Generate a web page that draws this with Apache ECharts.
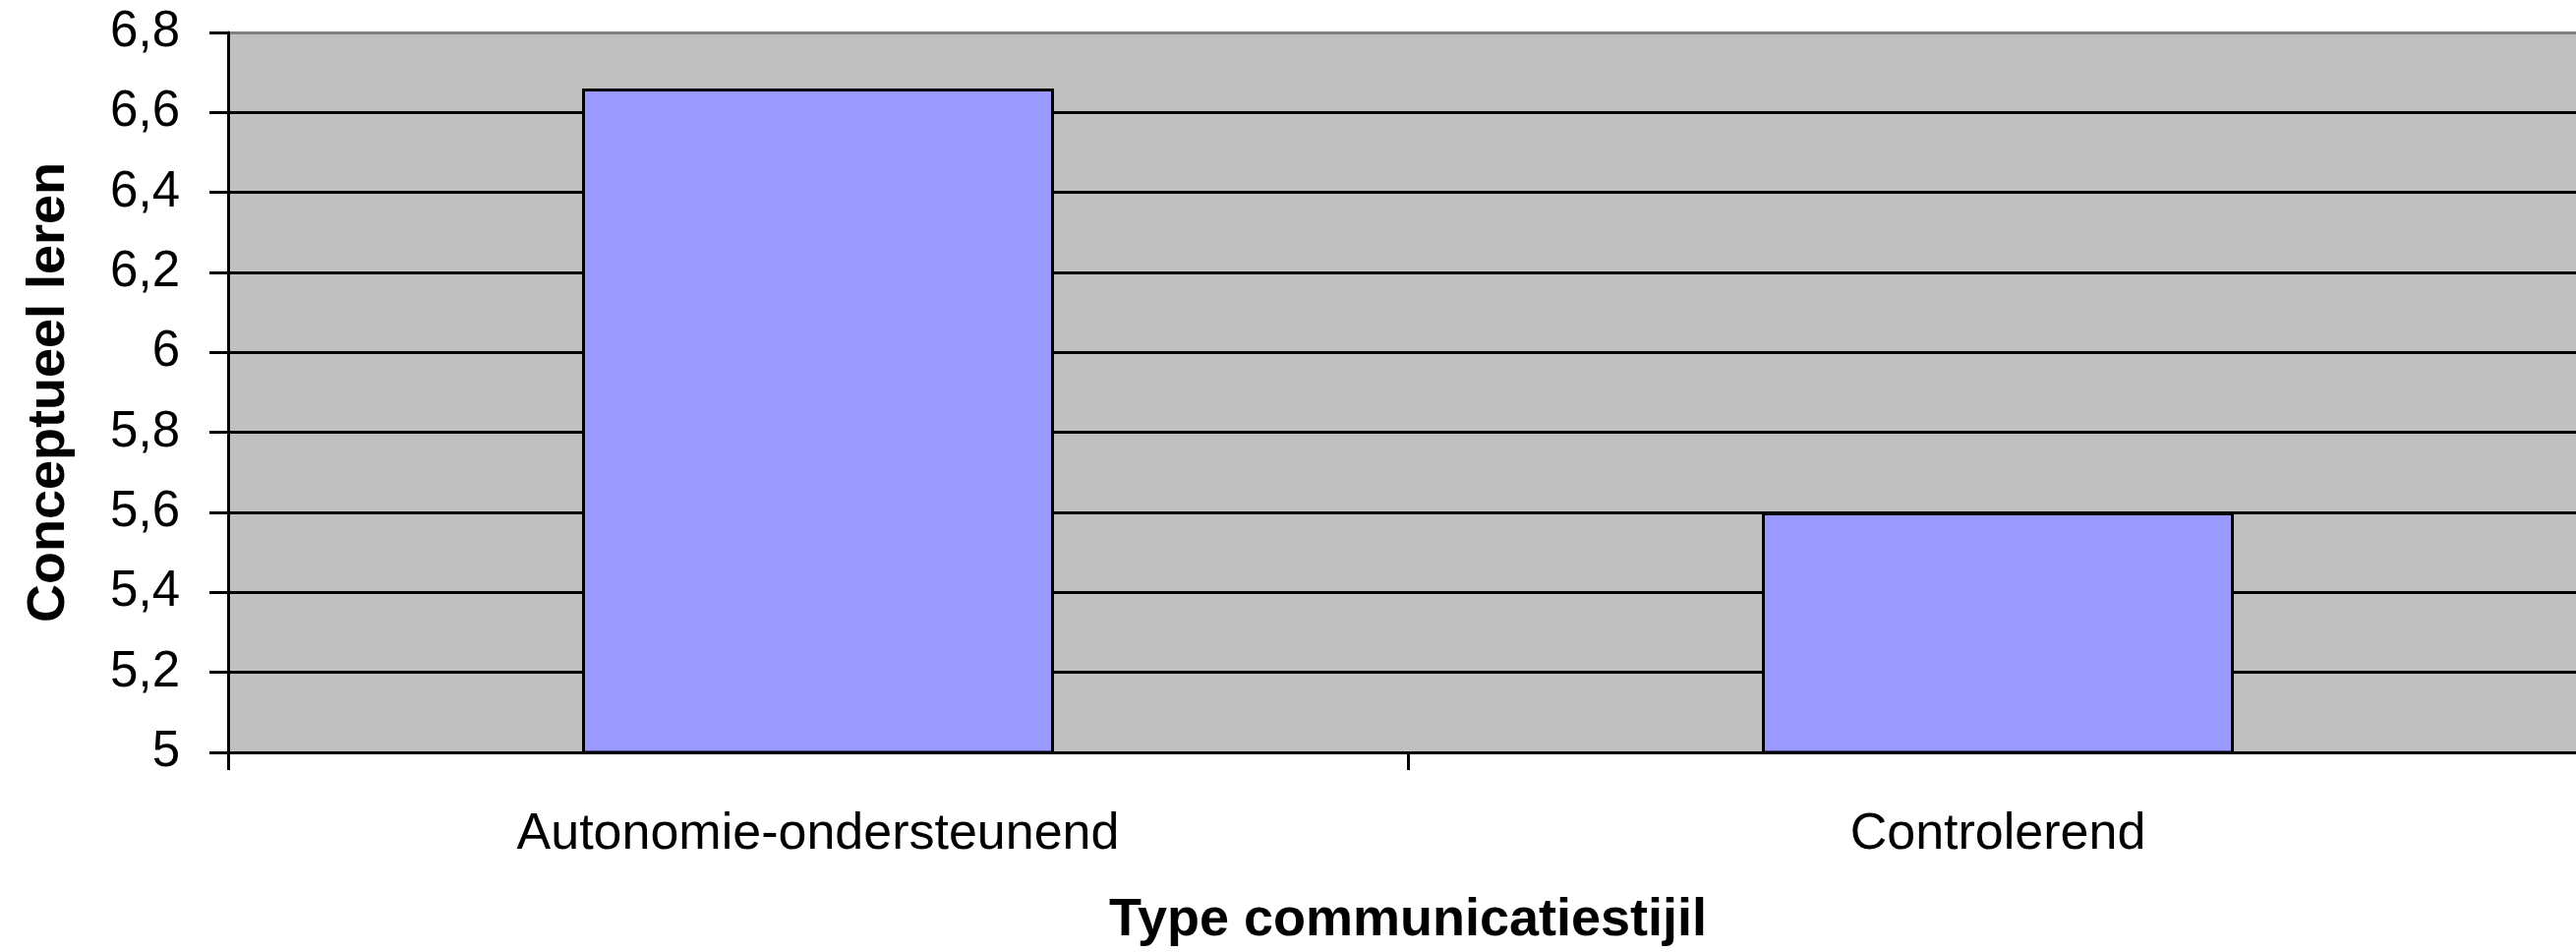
<!DOCTYPE html>
<html>
<head>
<meta charset="utf-8">
<script src="https://cdn.jsdelivr.net/npm/echarts@6/dist/echarts.min.js"></script>
<style>
  html, body { margin: 0; padding: 0; background: #fff; }
  #main { width: 2620px; height: 968px; }
</style>
</head>
<body>
<div id="main"></div>
<script>
// categorieen en gemiddelden
const categories = ['Autonomie-ondersteunend', 'Controlerend'];
const scores = [6.66, 5.6];
const yMin = 5;
const yMax = 6.8;
const yStep = 0.2;
const xTitle = 'Type communicatiestijil';
const yTitle = 'Conceptueel leren';

const font = '"Liberation Sans", Arial, sans-serif';

var myChart = echarts.init(document.getElementById('main'));

// gridlijnen zwart, bovenste lijn (rand plotvlak) grijs
const splitColors = [];
for (let i = 0; i < 9; i++) splitColors.push('#000000');
splitColors.push('#808080');

const option = {
  backgroundColor: '#ffffff',
  animation: false,
  grid: {
    left: 232,
    top: 33,
    width: 2400, // plotvlak loopt iets voorbij de rechterrand
    bottom: 203,
    outerBoundsMode: 'none',
    containLabel: false,
    show: true,
    backgroundColor: '#C0C0C0',
    borderWidth: 0
  },
  xAxis: {
    type: 'category',
    data: categories,
    axisLine: { show: true, lineStyle: { color: '#000', width: 3 } },
    axisTick: { show: true, length: 18, lineStyle: { color: '#000', width: 3 } },
    axisLabel: {
      color: '#000',
      fontFamily: font,
      fontSize: 52,
      margin: 58
    },
    splitLine: { show: false }
  },
  yAxis: {
    type: 'value',
    min: yMin,
    max: yMax,
    interval: yStep,
    axisLine: { show: true, lineStyle: { color: '#000', width: 3 } },
    axisTick: { show: true, length: 19, lineStyle: { color: '#000', width: 3 } },
    axisLabel: {
      color: '#000',
      fontFamily: font,
      fontSize: 51,
      margin: 49,
      formatter: function (v) {
        return String(Math.round(v * 10) / 10).replace('.', ',');
      }
    },
    splitLine: { show: true, lineStyle: { color: splitColors, width: 3 } }
  },
  series: [{
    type: 'bar',
    data: scores,
    barWidth: '40%',
    itemStyle: {
      color: '#9999FF',
      borderColor: '#000',
      borderWidth: 3
    }
  }],
  graphic: [
    {
      type: 'text',
      x: 1432,
      y: 936,
      style: {
        text: xTitle,
        fontFamily: font,
        fontWeight: 'bold',
        fontSize: 54,
        fill: '#000',
        align: 'center',
        verticalAlign: 'middle'
      }
    },
    {
      type: 'text',
      x: 50,
      y: 399,
      rotation: Math.PI / 2,
      style: {
        text: yTitle,
        fontFamily: font,
        fontWeight: 'bold',
        fontSize: 54,
        fill: '#000',
        align: 'center',
        verticalAlign: 'middle'
      }
    }
  ]
};

myChart.setOption(option);
</script>
</body>
</html>
